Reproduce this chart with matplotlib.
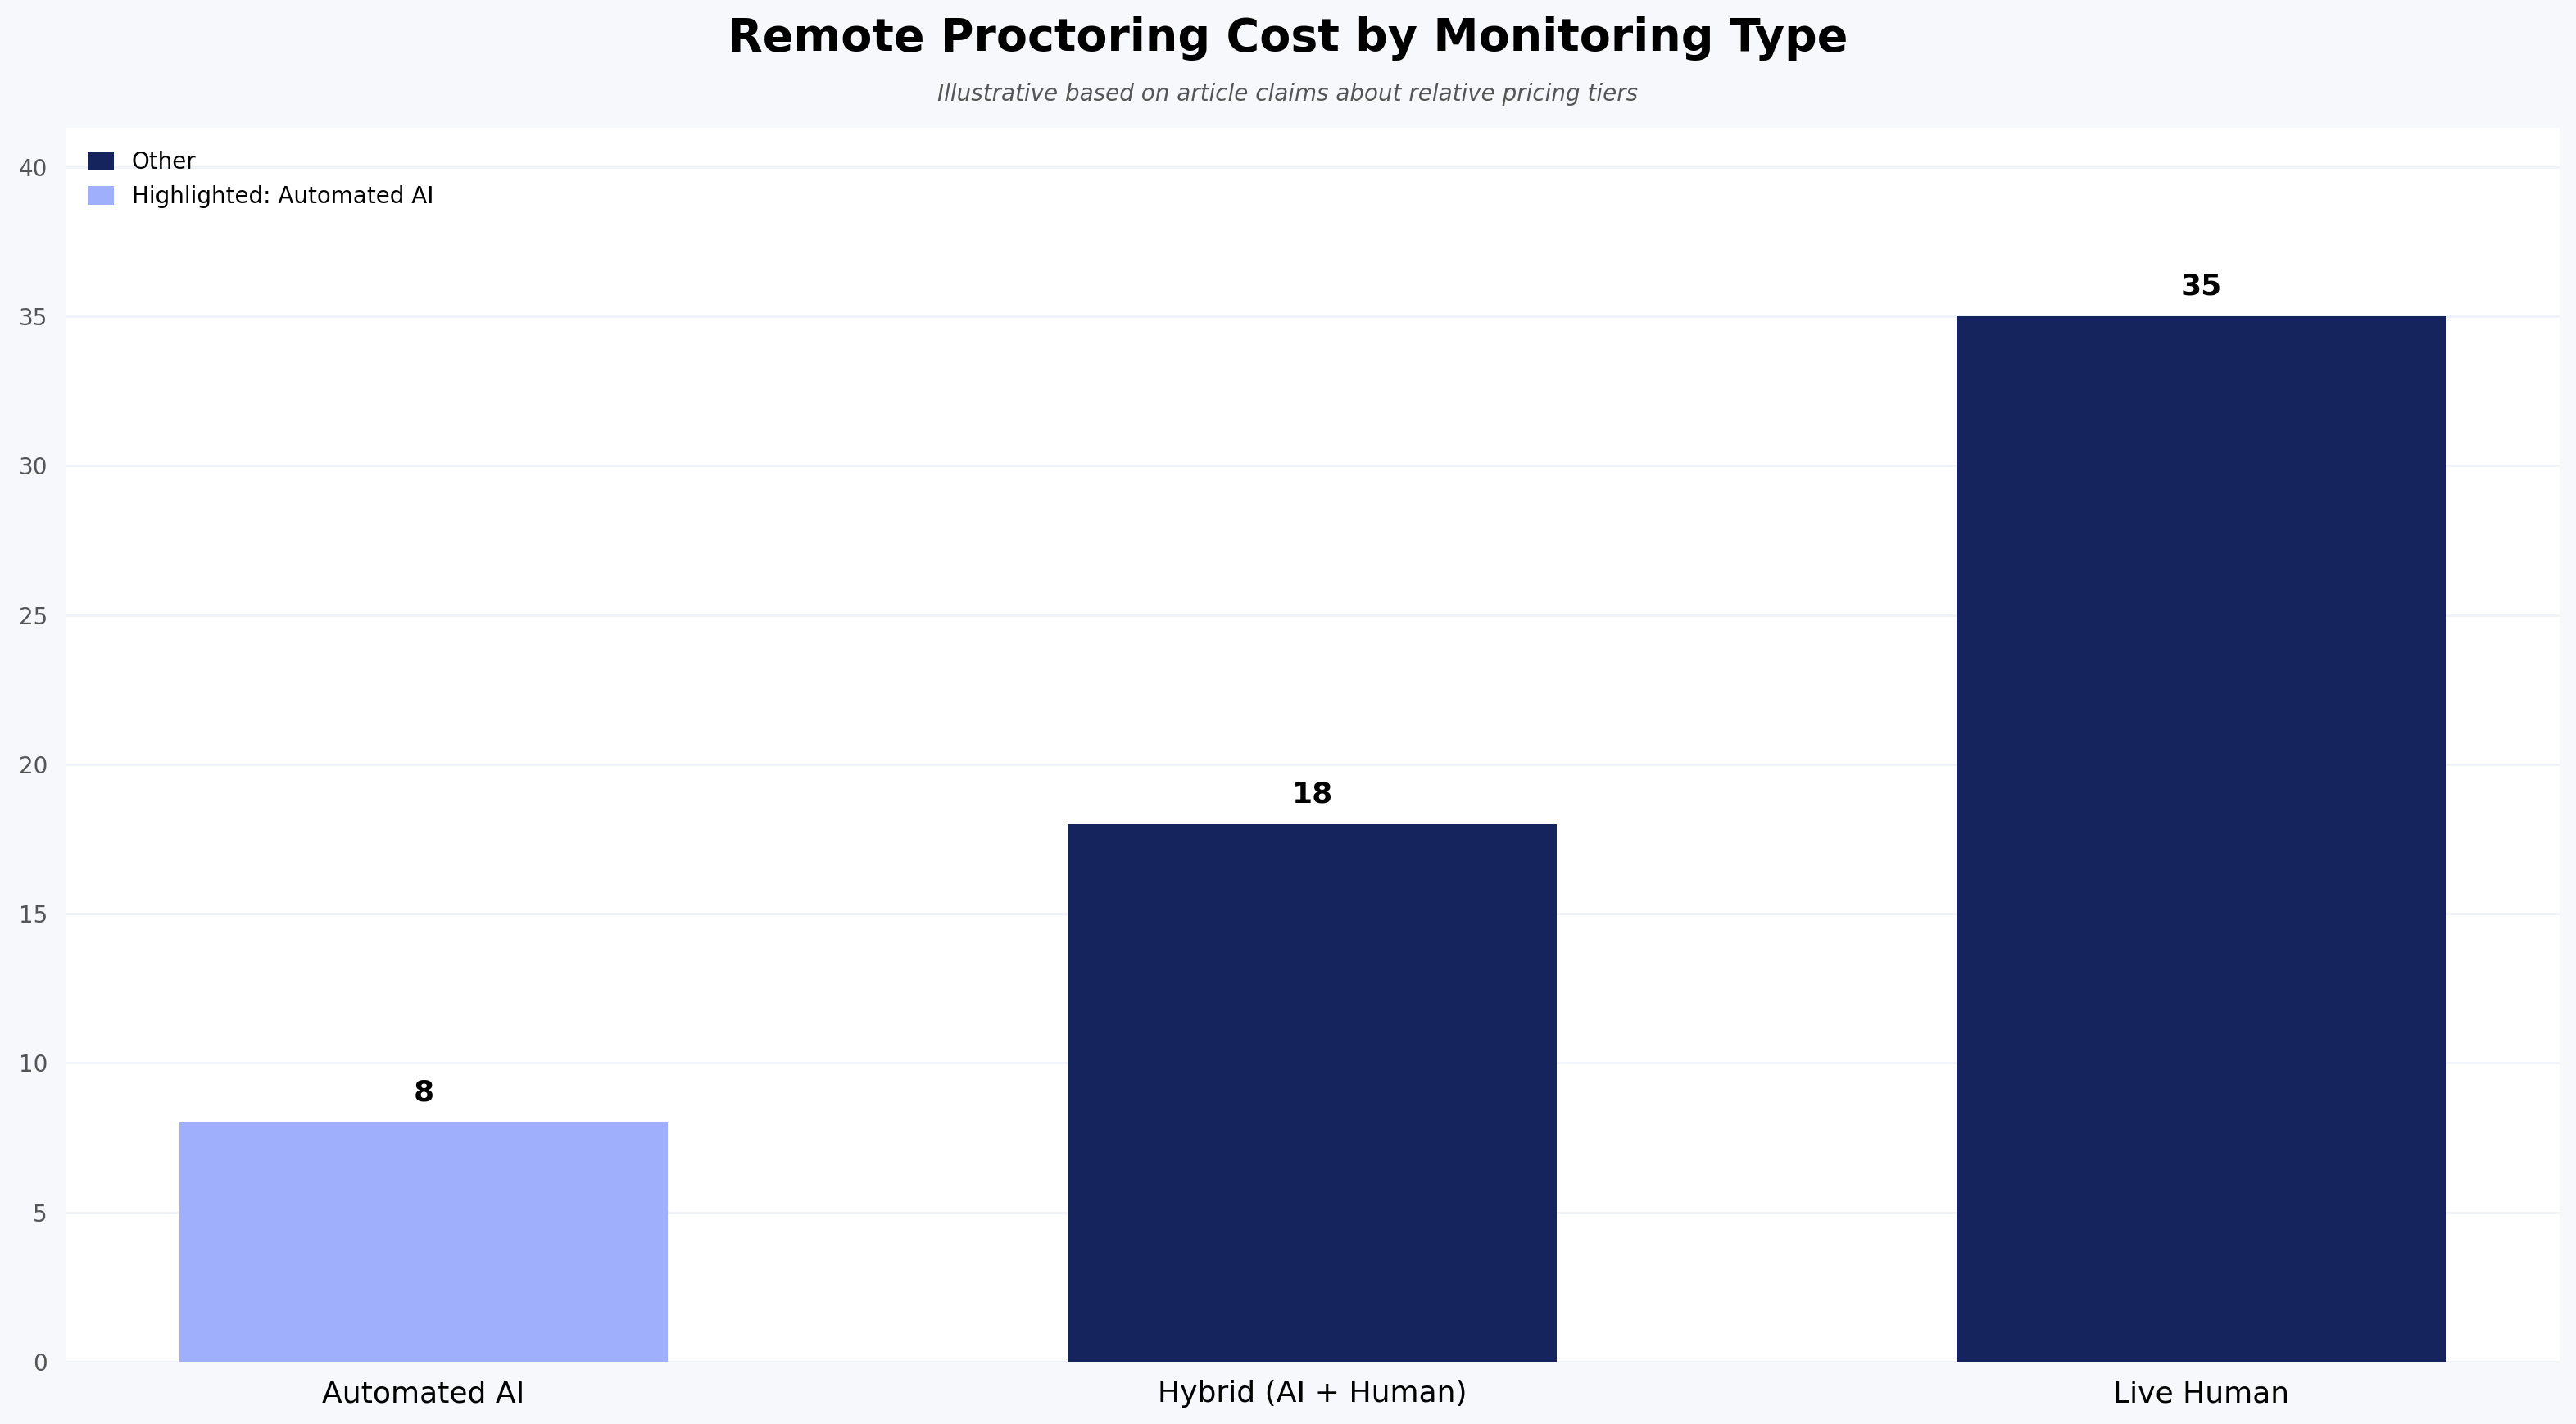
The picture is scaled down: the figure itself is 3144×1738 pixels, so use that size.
import matplotlib

matplotlib.use("Agg")
from matplotlib import pyplot as plt
from matplotlib.patches import Patch

categories = ["Automated AI", "Hybrid (AI + Human)", "Live Human"]
costs = [8, 18, 35]
highlighted = "Automated AI"

dark_color = "#15245D"
light_color = "#A0AFFC"
page_color = "#F7F8FC"
grid_color = "#EFF3F9"

figure = plt.figure(figsize=(15.72, 8.69), dpi=200, facecolor=page_color)
ax = figure.add_axes([0.0255, 0.0438, 0.968, 0.8662])
ax.set_facecolor("white")

colors = [light_color if name == highlighted else dark_color for name in categories]
x = range(len(categories))
bars = ax.bar(x, costs, width=0.55, color=colors, zorder=2)

for bar, value in zip(bars, costs):
    ax.annotate(
        f"{value}",
        (bar.get_x() + bar.get_width() / 2, bar.get_height()),
        xytext=(0, 7),
        textcoords="offset points",
        ha="center",
        va="bottom",
        fontsize=13,
        fontweight="bold",
        color="black",
    )

ax.set_xticks(list(x))
ax.set_xticklabels(categories, fontsize=13, color="black")
ax.set_ylim(0, max(costs) * 1.18)
ax.set_yticks(range(0, 45, 5))
ax.tick_params(axis="y", labelsize=10, colors="#555555", length=0, pad=8)
ax.tick_params(axis="x", length=0, pad=8)
ax.grid(axis="y", color=grid_color, linewidth=1.0, zorder=0)
ax.set_axisbelow(True)
for spine in ax.spines.values():
    spine.set_visible(False)

handles = [
    Patch(facecolor=dark_color, label="Other"),
    Patch(facecolor=light_color, label=f"Highlighted: {highlighted}"),
]
ax.legend(
    handles=handles,
    loc="upper left",
    frameon=False,
    fontsize=10,
    handlelength=1.1,
    handleheight=0.9,
    handletextpad=0.8,
    borderaxespad=0.6,
)

figure.text(
    0.5, 0.973, "Remote Proctoring Cost by Monitoring Type",
    ha="center", va="center", fontsize=20, fontweight="bold", color="black",
)
figure.text(
    0.5, 0.934, "Illustrative based on article claims about relative pricing tiers",
    ha="center", va="center", fontsize=10, style="italic", color="#555555",
)

figure.savefig("out.png", dpi=200, facecolor=page_color)
plt.close(figure)
